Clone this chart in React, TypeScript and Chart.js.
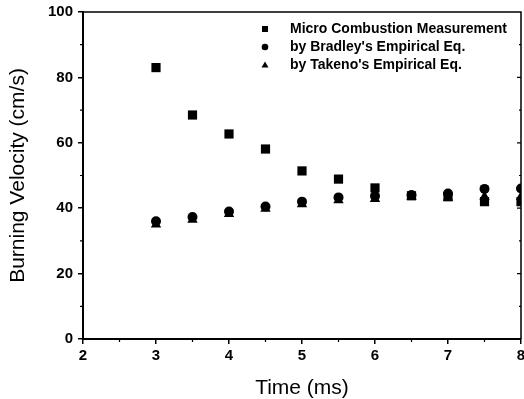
import React, { useEffect, useRef } from "react";
import { Chart, registerables } from "chart.js";

Chart.register(...registerables);

const times = [3, 3.5, 4, 4.5, 5, 5.5, 6, 6.5, 7, 7.5, 8];
const microMeasurement = [83, 68.5, 62.7, 58.1, 51.4, 48.9, 46.2, 43.8, 43.5, 42, 42];
const bradleyEq = [36, 37.3, 39, 40.5, 42, 43.3, 43.7, 44, 44.5, 45.9, 46];
const takenoEq = [35, 36.5, 38.2, 39.8, 41.2, 42.4, 42.8, 43.5, 43.2, 43.5, 43.5];
const seriesLabels = [
  "Micro Combustion Measurement",
  "by Bradley's Empirical Eq.",
  "by Takeno's Empirical Eq.",
];
const xTitle = "Time (ms)";
const yTitle = "Burning Velocity (cm/s)";

const FONT = "'Liberation Sans', Arial, sans-serif";

const framePlugin = {
  id: "frame",
  afterDraw(chart: any) {
    const { ctx, chartArea: a, scales } = chart;
    const x = scales.x;
    const y = scales.y;
    ctx.save();
    ctx.strokeStyle = "#000";
    ctx.lineWidth = 1.5;
    ctx.beginPath();
    ctx.moveTo(a.left, a.top);
    ctx.lineTo(a.right, a.top);
    ctx.lineTo(a.right, a.bottom);
    ctx.stroke();
    ctx.lineWidth = 1.2;
    ctx.beginPath();
    for (let v = 2.5; v < 8; v += 1) {
      const px = x.getPixelForValue(v);
      ctx.moveTo(px, a.bottom);
      ctx.lineTo(px, a.bottom + 3);
    }
    for (let v = 10; v < 100; v += 20) {
      const py = y.getPixelForValue(v);
      ctx.moveTo(a.left, py);
      ctx.lineTo(a.left - 3, py);
    }
    for (let v = 10; v < 100; v += 10) {
      const py = y.getPixelForValue(v);
      ctx.moveTo(a.right, py);
      ctx.lineTo(a.right - (v % 20 === 0 ? 4 : 2), py);
    }
    ctx.stroke();

    const rows = [29, 47, 65];
    const mx = 265;
    const tx = 290;
    ctx.fillStyle = "#000";
    ctx.font = `bold 14px ${FONT}`;
    ctx.textBaseline = "middle";
    ctx.textAlign = "left";
    rows.forEach((ry, i) => {
      ctx.beginPath();
      if (i === 0) {
        ctx.rect(mx - 3, ry - 3, 6, 6);
      } else if (i === 1) {
        ctx.arc(mx, ry, 3.3, 0, Math.PI * 2);
      } else {
        ctx.moveTo(mx, ry - 3.5);
        ctx.lineTo(mx + 3.5, ry + 2.5);
        ctx.lineTo(mx - 3.5, ry + 2.5);
        ctx.closePath();
      }
      ctx.fill();
      ctx.fillText(seriesLabels[i], tx, ry);
    });
    ctx.restore();
  },
};

export default function App() {
  const ref = useRef<HTMLCanvasElement>(null);
  useEffect(() => {
    if (!ref.current) return;
    const mk = (arr: number[]) => times.map((t, i) => ({ x: t, y: arr[i] }));
    const chart = new Chart(ref.current, {
      type: "scatter",
      data: {
        datasets: [
          { label: seriesLabels[2], data: mk(takenoEq), pointStyle: "triangle", pointRadius: 6, backgroundColor: "#000", borderColor: "#000", borderWidth: 0 },
          { label: seriesLabels[1], data: mk(bradleyEq), pointStyle: "circle", pointRadius: 5, backgroundColor: "#000", borderColor: "#000", borderWidth: 0 },
          { label: seriesLabels[0], data: mk(microMeasurement), pointStyle: "rect", pointRadius: 6.5, backgroundColor: "#000", borderColor: "#000", borderWidth: 0 },
        ],
      },
      options: {
        responsive: false,
        animation: false,
        layout: { autoPadding: false, padding: { top: 12, right: 3, left: 0, bottom: 0 } },
        plugins: { legend: { display: false }, tooltip: { enabled: false } },
        scales: {
          x: {
            type: "linear", min: 2, max: 8,
            ticks: { stepSize: 1, color: "#000", padding: 3, font: { family: FONT, size: 15, weight: "bold" } },
            grid: { display: true, drawOnChartArea: false, drawTicks: true, tickLength: 5, color: "#000", lineWidth: 1.5 },
            border: { display: true, color: "#000", width: 2 },
            title: { display: true, text: xTitle, color: "#000", font: { family: FONT, size: 21, lineHeight: 1 }, padding: { top: 0, bottom: 0.5 } },
            afterFit(scale: any) { scale.height = 60; scale.paddingLeft = 0; scale.paddingRight = 0; },
          },
          y: {
            type: "linear", min: 0, max: 100,
            ticks: { stepSize: 20, color: "#000", padding: 5, font: { family: FONT, size: 15, weight: "bold" } },
            grid: { display: true, drawOnChartArea: false, drawTicks: true, tickLength: 5, color: "#000", lineWidth: 1.5 },
            border: { display: true, color: "#000", width: 2 },
            title: { display: true, text: yTitle, color: "#000", font: { family: FONT, size: 21, lineHeight: 1 }, padding: { top: 7.5, bottom: 0 } },
            afterFit(scale: any) { scale.width = 83; scale.paddingTop = 0; scale.paddingBottom = 0; },
          },
        },
      },
      plugins: [framePlugin],
    });
    return () => chart.destroy();
  }, []);
  return (
    <div style={{ position: "absolute", left: 0, top: 0, width: 524, height: 399, background: "#fff" }}>
      <canvas ref={ref} width={524} height={399} />
    </div>
  );
}
